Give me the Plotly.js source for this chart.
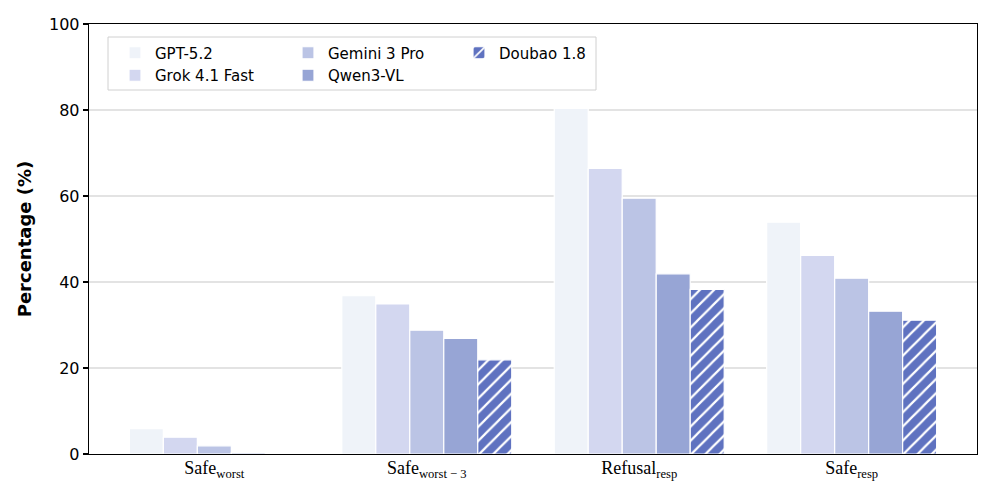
<!DOCTYPE html>
<html>
<head>
<meta charset="utf-8">
<script src="https://cdn.plot.ly/plotly-3.0.1.min.js"></script>
<style>html,body{margin:0;padding:0;background:#fff;} #chart{width:996px;height:498px;}</style>
</head>
<body>
<div id="chart"></div>
<script>
const categories = ["Safe<sub>worst</sub>", "Safe<sub>worst − 3</sub>", "Refusal<sub>resp</sub>", "Safe<sub>resp</sub>"];
const models = ["GPT-5.2", "Grok 4.1 Fast", "Gemini 3 Pro", "Qwen3-VL", "Doubao 1.8"];
const gpt52 = [5.9, 36.8, 80.4, 53.9];
const grok41 = [3.9, 34.9, 66.4, 46.2];
const gemini3 = [1.9, 28.8, 59.5, 40.9];
const qwen3vl = [0.3, 26.9, 41.9, 33.2];
const doubao18 = [0.0, 21.9, 38.3, 31.1];
const yTicks = [0, 20, 40, 60, 80, 100];

const seriesValues = [gpt52, grok41, gemini3, qwen3vl, doubao18];
const colors = ["#eff3f9", "#d3d7f0", "#bbc4e5", "#97a5d5", "#5f72c0"];
const legendIds = ["legend", "legend", "legend2", "legend2", "legend3"];

const traces = models.map((name, i) => {
  const t = {
    type: "bar",
    name: name,
    x: categories.map((c, k) => k),
    y: seriesValues[i],
    legend: legendIds[i],
    marker: {
      color: colors[i],
      line: {color: "#ffffff", width: 1.2}
    },
    hoverinfo: "skip"
  };
  if (i === 4) {
    t.marker.pattern = {shape: "/", fgcolor: "#ffffff", bgcolor: colors[i], size: 10, solidity: 0.22, fillmode: "replace"};
  }
  return t;
});

function legendAt(xPx) {
  return {
    orientation: "v",
    x: (xPx - 89) / 888,
    y: (454 - 36.5) / 430,
    xanchor: "left",
    yanchor: "top",
    bgcolor: "rgba(0,0,0,0)",
    borderwidth: 0,
    font: {family: "DejaVu Sans", size: 15, color: "#000000"},
    itemwidth: 30,
    traceorder: "normal",
    tracegroupgap: 0
  };
}

const layout = {
  width: 996,
  height: 498,
  margin: {l: 89, r: 19, t: 24, b: 44},
  paper_bgcolor: "#ffffff",
  plot_bgcolor: "#ffffff",
  font: {family: "DejaVu Sans", color: "#000000"},
  barmode: "group",
  bargap: 0.2,
  bargroupgap: 0,
  showlegend: true,
  legend: legendAt(115),
  legend2: legendAt(288),
  legend3: legendAt(459),
  shapes: [{
    type: "rect",
    xref: "paper", yref: "paper",
    x0: (108 - 89) / 888, x1: (596 - 89) / 888,
    y0: (454 - 90) / 430, y1: (454 - 37) / 430,
    line: {color: "#d0d0d0", width: 1},
    fillcolor: "rgba(255,255,255,0.85)",
    layer: "above"
  }],
  xaxis: {
    range: [-0.59, 3.59],
    tickmode: "array",
    tickvals: categories.map((c, k) => k),
    ticktext: categories,
    ticks: "",
    showgrid: false,
    zeroline: false,
    showline: true,
    linecolor: "#000000",
    linewidth: 1.3,
    mirror: true,
    layer: "below traces",
    ticklabelstandoff: -3,
    tickfont: {family: "Liberation Serif", size: 18, color: "#000000"},
    fixedrange: true
  },
  yaxis: {
    range: [0, 100],
    tickmode: "array",
    tickvals: yTicks,
    ticktext: yTicks.map(String),
    ticks: "outside",
    ticklen: 5,
    tickwidth: 1.2,
    tickcolor: "#000000",
    showgrid: true,
    gridcolor: "#e3e3e3",
    gridwidth: 1.5,
    zeroline: false,
    showline: true,
    linecolor: "#000000",
    linewidth: 1.3,
    mirror: true,
    layer: "below traces",
    tickfont: {family: "DejaVu Sans", size: 16, color: "#000000"},
    title: {text: "<b>Percentage (%)</b>", font: {family: "DejaVu Sans", size: 18, color: "#000000"}, standoff: 12},
    fixedrange: true
  }
};

Plotly.newPlot("chart", traces, layout, {displayModeBar: false, staticPlot: true});
</script>
</body>
</html>
